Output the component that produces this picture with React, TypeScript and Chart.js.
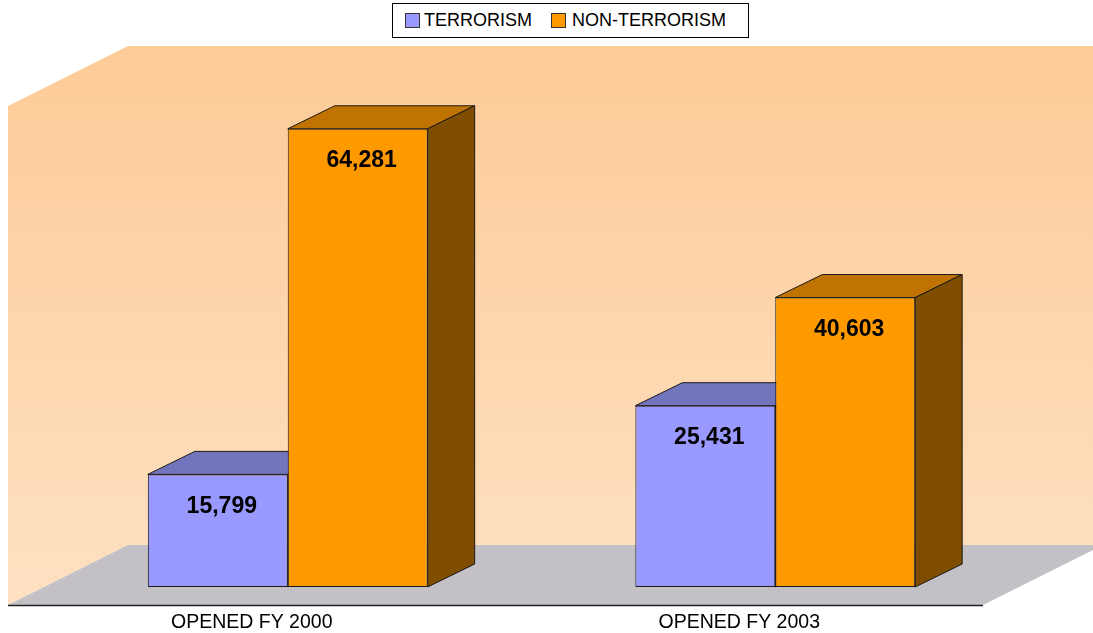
import React, { useEffect, useRef } from "react";
import { Chart, registerables } from "chart.js";

Chart.register(...registerables);

const categories = ["OPENED FY 2000", "OPENED FY 2003"];
const seriesNames = ["TERRORISM", "NON-TERRORISM"];
const terrorism = [15799, 25431];
const nonTerrorism = [64281, 40603];
const yMin = 0;
const yMax = 70000;

const frontColors = ["#9999FF", "#FF9900"];
const topColors = ["#7274BC", "#C07300"];
const sideColors = ["#4C4C80", "#7F4D00"];
const edgeColor = "#1a1a1a";
const FONT = "'Liberation Sans', Arial, sans-serif";

// 3D geometry offsets (style only)
const WALL = { dx: 84, dy: -42 };
const FRONT_EDGE = { dx: -36, dy: 18 };
const BAR_DEPTH = { dx: 47, dy: -23 };

function poly(ctx: CanvasRenderingContext2D, pts: number[][], fill: any, stroke?: string) {
  ctx.beginPath();
  ctx.moveTo(pts[0][0], pts[0][1]);
  for (let i = 1; i < pts.length; i++) ctx.lineTo(pts[i][0], pts[i][1]);
  ctx.closePath();
  ctx.fillStyle = fill;
  ctx.fill();
  if (stroke) {
    ctx.strokeStyle = stroke;
    ctx.lineWidth = 1;
    ctx.stroke();
  }
}

const threeD = {
  id: "threeD",
  beforeDraw(chart: any) {
    const { ctx, chartArea: a } = chart;
    const fL = a.left + FRONT_EDGE.dx, fR = a.right + FRONT_EDGE.dx;
    const fT = a.top + FRONT_EDGE.dy, fB = a.bottom + FRONT_EDGE.dy;
    const bL = a.left + WALL.dx, bR = a.right + WALL.dx;
    const bT = a.top + WALL.dy, bB = a.bottom + WALL.dy;
    ctx.save();
    const grad = ctx.createLinearGradient(0, bT, 0, fB);
    grad.addColorStop(0, "#FDCB97");
    grad.addColorStop(1, "#FEE1C2");
    ctx.fillStyle = grad;
    ctx.fillRect(bL, bT, bR - bL + 20, bB - bT);
    poly(ctx, [[fL, fT], [bL, bT], [bL, bB], [fL, fB]], grad);
    poly(ctx, [[fL, fB], [fR, fB], [bR, bB], [bL, bB]], "#C3C1C5");
    ctx.beginPath();
    ctx.moveTo(fL, fB + 0.5);
    ctx.lineTo(fR, fB + 0.5);
    ctx.strokeStyle = "#222";
    ctx.lineWidth = 1.5;
    ctx.stroke();
    ctx.restore();
  },
  beforeDatasetsDraw(chart: any) {
    const { ctx } = chart;
    ctx.save();
    chart.data.datasets.forEach((ds: any, i: number) => {
      const meta = chart.getDatasetMeta(i);
      meta.data.forEach((bar: any) => {
        const { x, y, base, width } = bar.getProps(["x", "y", "base", "width"], true);
        const l = x - width / 2, r = x + width / 2;
        const { dx, dy } = BAR_DEPTH;
        poly(ctx, [[l, y], [r, y], [r + dx, y + dy], [l + dx, y + dy]], topColors[i], edgeColor);
        poly(ctx, [[r, y], [r + dx, y + dy], [r + dx, base + dy], [r, base]], sideColors[i], edgeColor);
      });
    });
    ctx.restore();
  },
  afterDatasetsDraw(chart: any) {
    const { ctx } = chart;
    ctx.save();
    ctx.font = `bold 23px ${FONT}`;
    ctx.fillStyle = "#000";
    ctx.textAlign = "center";
    ctx.textBaseline = "middle";
    chart.data.datasets.forEach((ds: any, i: number) => {
      const meta = chart.getDatasetMeta(i);
      meta.data.forEach((bar: any, j: number) => {
        const { x, y } = bar.getProps(["x", "y"], true);
        const v = ds.data[j] as number;
        ctx.fillText(v.toLocaleString("en-US"), x + 4, y + 32);
      });
    });
    ctx.restore();
  },
};

export default function App() {
  const ref = useRef<HTMLCanvasElement>(null);
  useEffect(() => {
    if (!ref.current) return;
    const chart = new Chart(ref.current, {
      type: "bar",
      data: {
        labels: categories,
        datasets: [
          {
            label: seriesNames[0],
            data: terrorism,
            backgroundColor: frontColors[0],
            borderColor: edgeColor,
            borderWidth: 1,
            borderSkipped: false,
            barPercentage: 1,
            categoryPercentage: 0.574,
          },
          {
            label: seriesNames[1],
            data: nonTerrorism,
            backgroundColor: frontColors[1],
            borderColor: edgeColor,
            borderWidth: 1,
            borderSkipped: false,
            barPercentage: 1,
            categoryPercentage: 0.574,
          },
        ],
      },
      options: {
        responsive: false,
        animation: false,
        layout: { padding: { left: 44, right: 74, top: 88, bottom: 0 } },
        plugins: { legend: { display: false }, tooltip: { enabled: false } },
        scales: {
          y: { display: false, min: yMin, max: yMax },
          x: {
            grid: { display: false, drawTicks: false },
            border: { display: false },
            ticks: {
              color: "#000",
              font: { family: FONT, size: 19.5 },
              padding: 24,
              labelOffset: -36,
              maxRotation: 0,
              autoSkip: false,
            },
            afterFit: (s: any) => {
              s.height = 46;
            },
          },
        },
      },
      plugins: [threeD],
    });
    return () => chart.destroy();
  }, []);

  const marker = (c: string) => (
    <span
      style={{
        display: "inline-block",
        width: 15,
        height: 15,
        boxSizing: "border-box",
        border: "1px solid #333",
        background: c,
      }}
    />
  );

  return (
    <div style={{ position: "fixed", left: 0, top: 0, width: 1093, height: 633, background: "#fff" }}>
      <canvas ref={ref} width={1093} height={633} style={{ display: "block" }} />
      <div
        style={{
          position: "absolute",
          left: 392,
          top: 3,
          width: 357,
          height: 35,
          boxSizing: "border-box",
          border: "1px solid #000",
          background: "#fff",
          display: "flex",
          alignItems: "center",
          paddingLeft: 12,
          fontFamily: FONT,
          fontSize: 18,
          color: "#000",
          whiteSpace: "nowrap",
        }}
      >
        {marker(frontColors[0])}
        <span style={{ marginLeft: 4 }}>{seriesNames[0]}</span>
        <span style={{ marginLeft: 19, display: "inline-flex" }}>{marker(frontColors[1])}</span>
        <span style={{ marginLeft: 6 }}>{seriesNames[1]}</span>
      </div>
    </div>
  );
}
